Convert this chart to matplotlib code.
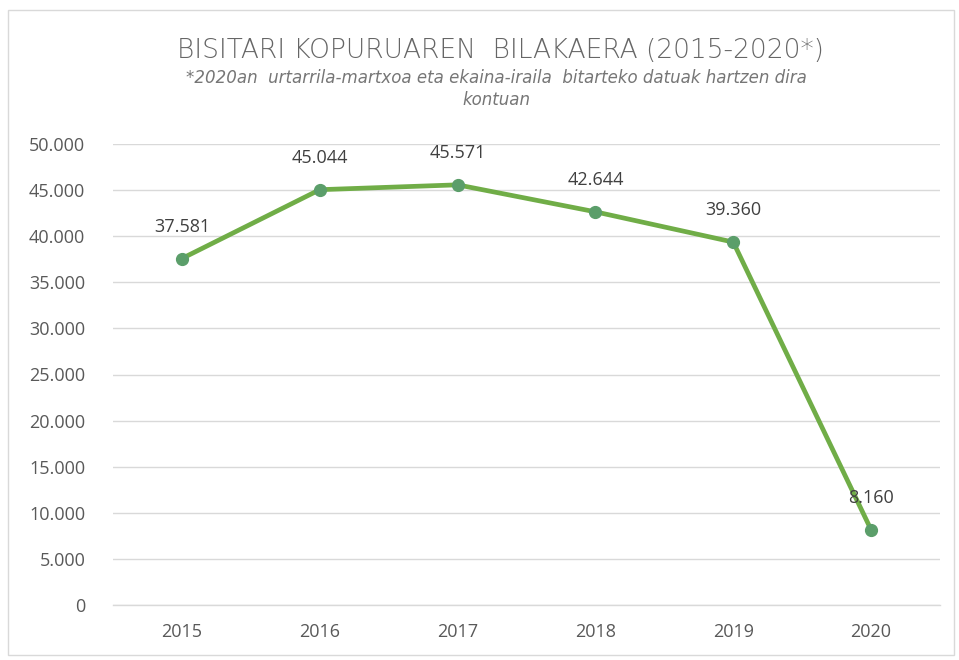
import matplotlib.pyplot as plt
import matplotlib.patches as patches
from matplotlib.ticker import FuncFormatter

years = ["2015", "2016", "2017", "2018", "2019", "2020"]
visitors = [37581, 45044, 45571, 42644, 39360, 8160]
labels = ["37.581", "45.044", "45.571", "42.644", "39.360", "8.160"]

plt.rcParams["font.family"] = ["Open Sans", "DejaVu Sans"]

fig = plt.figure(figsize=(9.59, 6.6), dpi=100)
ax = fig.add_axes([113 / 959, 1 - 605 / 660, (940 - 113) / 959, (605 - 144) / 660])

x = list(range(len(years)))
ax.plot(x, visitors, color="#70ad47", linewidth=3.4, zorder=3,
        marker="o", markersize=8.5, markerfacecolor="#5b9e6a", markeredgecolor="#5b9e6a")

for xi, v, lab in zip(x, visitors, labels):
    ax.annotate(lab, (xi, v), xytext=(0, 23), textcoords="offset points",
                ha="center", va="center", fontsize=13, color="#404040")

ax.set_xlim(-0.5, len(years) - 0.5)
ax.set_ylim(0, 50000)
ax.set_yticks(range(0, 50001, 5000))
ax.yaxis.set_major_formatter(FuncFormatter(lambda v, p: "0" if v == 0 else f"{int(v):,}".replace(",", ".")))
ax.set_xticks(x)
ax.set_xticklabels(years)
ax.tick_params(axis="both", length=0, labelsize=13, colors="#595959")
ax.tick_params(axis="y", pad=20)
ax.tick_params(axis="x", pad=13)
ax.grid(axis="y", color="#d9d9d9", linewidth=1)
ax.set_axisbelow(True)
for s in ax.spines.values():
    s.set_visible(False)
ax.spines["bottom"].set_visible(True)
ax.spines["bottom"].set_color("#d9d9d9")
ax.spines["bottom"].set_linewidth(1)

fig.text(0.522, 1 - 50 / 660, "BISITARI KOPURUAREN  BILAKAERA (2015-2020*)",
         ha="center", va="center", fontsize=19, color="#666666",
         family=["DejaVu Sans"], fontweight="light")
fig.text(0.518, 1 - 89 / 660,
         "*2020an  urtarrila-martxoa eta ekaina-iraila  bitarteko datuak hartzen dira\nkontuan",
         ha="center", va="center", fontsize=12, color="#767676", style="italic",
         family=["DejaVu Sans"], fontweight="light", linespacing=1.3)

fig.patches.append(patches.Rectangle((8 / 959, 5 / 660), 946 / 959, 645 / 660,
                                     transform=fig.transFigure, fill=False,
                                     edgecolor="#d9d9d9", linewidth=1))

fig.savefig("out.png", dpi=100)
